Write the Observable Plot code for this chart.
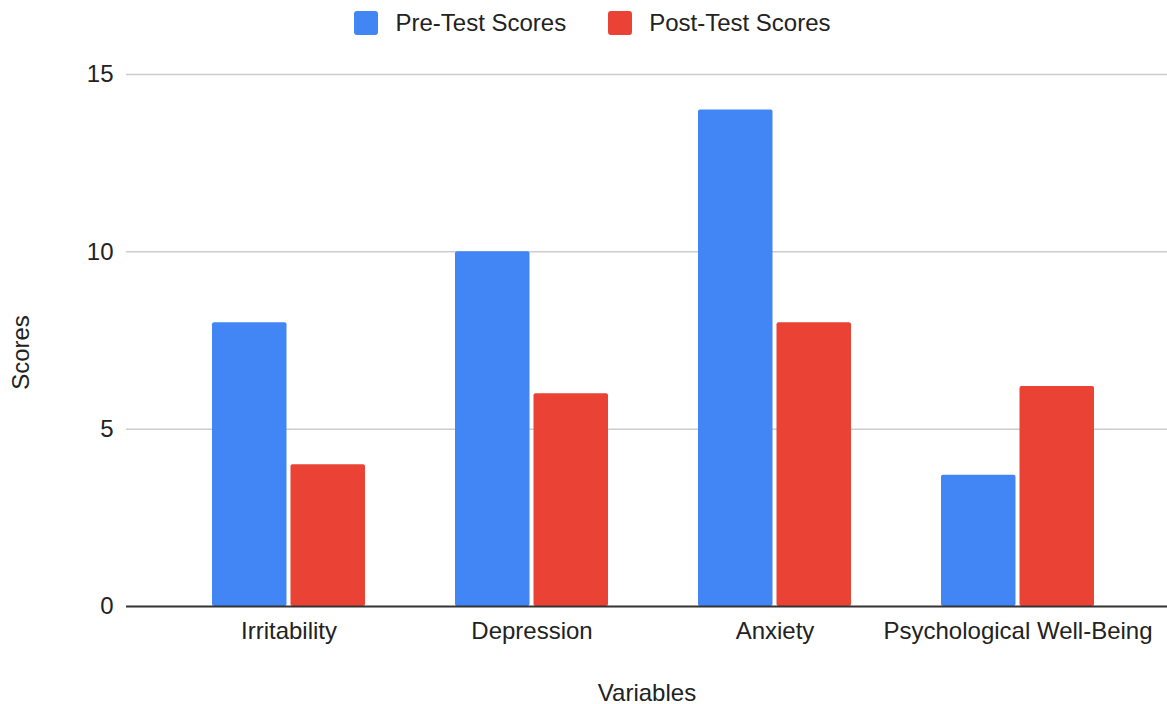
<!DOCTYPE html>
<html>
<head>
<meta charset="utf-8">
<script src="https://cdn.jsdelivr.net/npm/d3@7"></script>
<script src="https://cdn.jsdelivr.net/npm/@observablehq/plot@0.6"></script>
<style>
  html, body { margin: 0; padding: 0; background: #fff; }
  body { width: 1167px; height: 704px; overflow: hidden; font-family: Arial, "Liberation Sans", sans-serif; }
  #legend { height: 46px; display: flex; justify-content: center; align-items: center; gap: 42px; padding-left: 18px; box-sizing: border-box; font-size: 24px; color: #222; }
  .item { display: flex; align-items: center; }
  .sw { width: 24px; height: 24px; border-radius: 3px; margin-right: 17px; }
  svg { display: block; }
</style>
</head>
<body>
<div id="legend"></div>
<div id="chart"></div>
<script>
const categories = ["Irritability", "Depression", "Anxiety", "Psychological Well-Being"];
const seriesNames = ["Pre-Test Scores", "Post-Test Scores"];
const preTest = [8, 10, 14, 3.7];
const postTest = [4, 6, 8, 6.2];
const yTicks = [0, 5, 10, 15];
const colors = ["#4285F4", "#EA4335"];
const xTitle = "Variables";
const yTitle = "Scores";

const legend = document.getElementById("legend");
seriesNames.forEach((name, i) => {
  const it = document.createElement("div");
  it.className = "item";
  it.innerHTML = `<span class="sw" style="background:${colors[i]}"></span><span>${name}</span>`;
  legend.appendChild(it);
});

const data = categories.map((c, i) => ({category: c, pre: preTest[i], post: postTest[i]}));
const half = 153 / 2;

const chart = Plot.plot({
  width: 1167,
  height: 658,
  marginLeft: 126,
  marginRight: 0,
  marginTop: 28,
  marginBottom: 98,
  style: {fontFamily: "Arial, 'Liberation Sans', sans-serif", fontSize: "24px", color: "#222", background: "#fff"},
  x: {domain: categories, range: [166.5, 1139], paddingInner: 0.37, paddingOuter: 0.185, align: 0.5},
  y: {domain: [0, 15]},
  marks: [
    Plot.ruleY(yTicks.filter(d => d > 0), {stroke: "#cccccc", strokeWidth: 1.5}),
    Plot.barY(data, {x: "category", y: "pre", fill: colors[0], insetRight: half + 2, rx: 2}),
    Plot.barY(data, {x: "category", y: "post", fill: colors[1], insetLeft: half + 2, rx: 2}),
    Plot.ruleY([0], {stroke: "#333333", strokeWidth: 2}),
    Plot.axisY({ticks: yTicks, tickSize: 0, tickPadding: 13, fontSize: 24, label: null}),
    Plot.text([yTitle], {text: d => d, frameAnchor: "left", textAnchor: "middle", rotate: -90, dx: -105, dy: 12, fontSize: 24, fill: "#222"}),
    Plot.axisX({tickSize: 0, tickPadding: 15, fontSize: 24, label: xTitle, labelAnchor: "center", labelOffset: 94, labelArrow: "none"})
  ]
});
document.getElementById("chart").appendChild(chart);
</script>
</body>
</html>
